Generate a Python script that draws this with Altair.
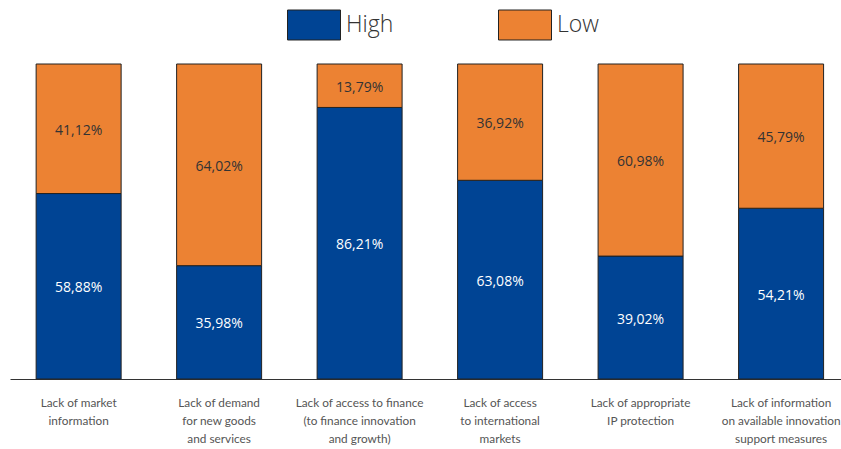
import altair as alt
import pandas as pd

categories = [
    "Lack of market|information",
    "Lack of demand|for new goods|and services",
    "Lack of access to finance|(to finance innovation|and growth)",
    "Lack of access|to international|markets",
    "Lack of appropriate|IP protection",
    "Lack of information|on available innovation|support measures",
]
high = [58.88, 35.98, 86.21, 63.08, 39.02, 54.21]
low = [41.12, 64.02, 13.79, 36.92, 60.98, 45.79]
series = ["High", "Low"]
colors = ["#004494", "#ec8233"]

rows = []
for c, h, l in zip(categories, high, low):
    for s, v, o in zip(series, [h, l], [0, 1]):
        rows.append({"cat": c, "series": s, "value": v, "ord": o,
                     "label": f"{v:.2f}".replace(".", ",") + "%"})
df = pd.DataFrame(rows)

base = alt.Chart(df).transform_stack(
    stack="value", groupby=["cat"], as_=["y0", "y1"],
    sort=[alt.SortField("ord", order="ascending")]
).transform_calculate(mid="(datum.y0 + datum.y1) / 2")

x = alt.X("cat:N", sort=categories, title=None,
          scale=alt.Scale(paddingInner=0.395, paddingOuter=0.155, align=0.6),
          axis=alt.Axis(labelAngle=0, ticks=False, domainColor="#333333", domainWidth=1,
                        labelColor="#555555", labelFont="Lato",
                        labelFontSize=11.8, labelLineHeight=18, labelPadding=18,
                        labelExpr="split(datum.label, '|')", labelLimit=300))
yscale = alt.Scale(domain=[0, 100], nice=False)

bars = base.mark_bar(stroke="#222222", strokeWidth=1).encode(
    x=x,
    y=alt.Y("y0:Q", scale=yscale, axis=None),
    y2="y1:Q",
    color=alt.Color("series:N", scale=alt.Scale(domain=series, range=colors),
                    legend=alt.Legend(title=None, orient="none", legendX=277, legendY=-66,
                                      direction="horizontal",
                                      symbolType="M-1,-0.566L1,-0.566L1,0.566L-1,0.566Z",
                                      symbolSize=2809, symbolStrokeColor="#222222",
                                      symbolStrokeWidth=1, labelFontSize=23,
                                      labelFont="Open Sans", labelFontWeight=300,
                                      labelColor="#333333", labelOffset=5,
                                      columnPadding=102)),
)

text = base.mark_text(font="Open Sans", fontSize=14, dy=2).encode(
    x=alt.X("cat:N", sort=categories),
    y=alt.Y("mid:Q", scale=yscale),
    text="label:N",
    color=alt.Color("series:N", scale=alt.Scale(domain=series, range=["#ffffff", "#333333"]),
                    legend=None),
)

chart = alt.layer(bars, text).resolve_scale(color="independent").properties(
    width=831, height=315,
    autosize=alt.AutoSizeParams(type="none"),
    padding={"left": 10, "top": 64, "right": 0, "bottom": 70},
).configure_view(stroke=None)

chart.save("out.html", embed_options={"renderer": "svg", "actions": False})
